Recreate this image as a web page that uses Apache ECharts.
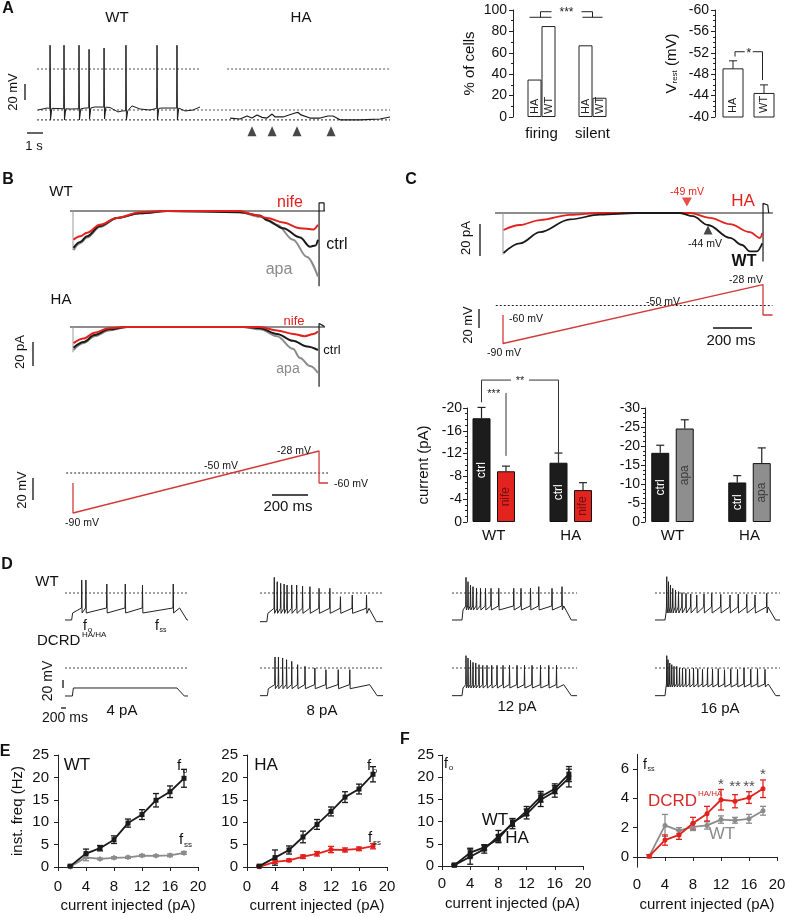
<!DOCTYPE html>
<html><head><meta charset="utf-8">
<script src="https://cdn.jsdelivr.net/npm/echarts@6/dist/echarts.min.js"></script>
<style>html,body{margin:0;padding:0;background:#fff}#c{width:793px;height:917px}</style>
</head><body><div id="c"></div><script>
// ================= DATA =================
// Panel A: spontaneous activity (time s, membrane potential mV)
const aTimeMax = 23.53;
const aDotted = [[0,10.87,0],[12.67,23.53,0],[0,23.53,-50],[0,23.53,-62]]; // [tStart,tEnd,mV]
const aWtBaseline = [[0.07,-50],[0.67,-47.6],[1.4,-48.2],[2.2,-48.8],[3.2,-47.6],[3.87,-46.3],[4.87,-47],[5.4,-52.4],[5.67,-51.2],[6.33,-45],[6.87,-48.8],[7.53,-50],[8.33,-47.6],[9.0,-47.6],[9.87,-51.2],[10.4,-50],[10.87,-46.3]];
const aWtSpikes = [[0.87,-48,29,-62],[1.8,-48.5,29,-62],[2.8,-48.5,29,-62],[3.47,-47.5,24,-61],[4.47,-46.5,25.6,-61],[5.93,-51,29,-62],[8.0,-48,29,-62],[9.33,-47.6,29,-62]]; // [t, base, peak, ahp]
const aHaTrace = [[12.87,-59.8],[13.53,-61],[14.0,-57.3],[14.33,-59.8],[14.67,-56],[15.0,-59],[15.33,-59.8],[15.67,-55],[15.87,-58.5],[16.4,-58.5],[17.2,-53.7],[17.4,-53],[17.6,-56],[18.2,-59.8],[18.87,-59.8],[19.4,-57.3],[19.73,-57.3],[20.2,-62],[21.53,-62],[22.87,-61],[23.53,-58.5]];
const aArrowTimes = [14.33,15.67,17.33,19.6];
const aArrowMv = -76;
// % of cells
const pctCats = ['firing','silent'];
const pctHA = [35,67];
const pctWT = [85,18];
const pctSig = [93.2, 98.4]; // underline level, bracket level
// V rest
const vCats = ['HA','WT'];
const vMean = [-49.0,-44.4];
const vErr = [1.5,1.6];
const vSig = [-52.2,-51.3,-46.9]; // level, left end, right end
// Panels B, C: ramp protocol (ms, mV)
const rampT = [0,0,1370,1370,1420];
const rampV = [-60,-90,-28,-60,-60];
const holdMv = -50;
const holdSpan = [-38,1420];
// B currents (ms, pA)
const bZeroSpan = [-17,1403];
const bWtApa = [[3,-34],[40,-28],[78,-23],[150,-14],[245,-6],[373,-2],[523,0],[930,-1],[1041,-5],[1136,-12],[1225,-25],[1303,-40],[1364,-57]];
const bWtCtrl = [[3,-32],[40,-27],[78,-22],[150,-13],[245,-6],[373,-2],[523,0],[930,-1],[1041,-4],[1080,-8],[1170,-15],[1264,-23],[1320,-31],[1350,-30],[1364,-25]];
const bWtNife = [[3,-25],[40,-22],[78,-19],[150,-12],[245,-6],[373,-1],[523,0],[930,0],[1002,-3],[1080,-6],[1170,-10],[1264,-15],[1340,-16],[1364,-12]];
const bWtEnds = [[[0,0],[0,-34]],[[1370,-69],[1370,7],[1398,7],[1398,0]]];
const bHaApa = [[3,-20],[60,-14],[120,-8],[200,-3],[300,0],[950,0],[1041,-2],[1136,-8],[1225,-19],[1264,-27],[1320,-34],[1364,-40]];
const bHaCtrl = [[3,-18],[60,-13],[120,-7],[200,-2],[300,0],[950,0],[1041,-1],[1136,-6],[1225,-12],[1303,-17],[1364,-20]];
const bHaNife = [[3,-14],[60,-10],[120,-5],[200,-1],[300,0],[1041,0],[1136,-3],[1225,-6],[1290,-8],[1340,-6],[1364,-4]];
const bHaEnds = [[[0,0],[0,-22]],[[1370,-52],[1370,3],[1395,1],[1400,0]]];
// C currents
const cZeroSpan = [-42,1422];
const cWt = [[3,-25],[90,-19],[195,-12],[353,-4],[511,-1],[700,0],[933,0],[1000,-2],[1080,-7.5],[1196,-15.6],[1260,-20],[1301,-24],[1338,-24],[1366,-19]];
const cHa = [[3,-10.6],[90,-7.5],[195,-4.4],[353,-1.2],[511,0],[985,0],[1090,-3],[1196,-7],[1301,-12],[1354,-15.6],[1366,-12.5]];
const cEnds = [[[0,0],[0,-26]],[[1370,-31],[1370,6],[1395,5],[1400,0]]];
const cHaMark = [969,6.9];
const cWtMark = [1080,-10.6];
// C bars (pA)
const cBarCats = ['WT','HA'];
const cCtrl = [-18.2,-10.4];
const cCtrlErr = [1.9,1.7];
const cNife = [-8.9,-5.6];
const cNifeErr = [0.9,1.3];
const cCtrl2 = [-18.2,-10.4];
const cCtrl2Err = [2.0,1.8];
const cApa = [-24.6,-15.5];
const cApaErr = [2.3,4.0];
// D: current-step traces (s, mV)
const dWt4 = {on:0.27, off:4.66, base:-81, ahp:-60, thr:-45, spikes:[0.68,0.85,1.7,2.45,3.15,4.4], peaks:[39,39,27,27,24,27]};
const dHa4 = {on:0.3, off:4.55, base:-84, ahp:-60, thr:-60, spikes:[], peaks:[]};
const dWt8 = {on:0.28, off:4.43, base:-86, ahp:-61, thr:-46, spikes:[0.58,0.70,0.84,0.98,1.10,1.29,1.49,1.73,2.03,2.40,2.84,3.27,3.75,4.33], peaks:[47,34,29,27,24,24,24,21,19,14,14,-11,-6,-6]};
const dHa8 = {on:0.3, off:4.46, base:-83, ahp:-62, thr:-50, spikes:[0.61,0.75,0.92,1.08,1.29,1.53,1.83,2.23,2.68,3.18,3.65], peaks:[33,33,30,25,20,10,5,0,-5,-5,-5]};
const dWt12 = {on:0.4, off:4.47, base:-81, ahp:-51, thr:-39, spikes:[0.56,0.64,0.74,0.84,0.98,1.14,1.34,1.56,1.87,2.47,2.76,3.14,3.47,4.0,4.4], peaks:[47,34,24,19,14,14,14,14,14,14,14,14,19,14,19]};
const dHa12 = {on:0.4, off:4.47, base:-83, ahp:-60, thr:-50, spikes:[0.56,0.64,0.74,0.84,0.95,1.08,1.23,1.4,1.59,1.8,2.04,2.3,2.6,2.9,3.2,3.54,3.87,4.18], peaks:[37,30,23,17,15,10,8,8,8,8,8,8,8,8,8,8,8,8]};
const dWt16 = {on:0.4, off:4.52, base:-81, ahp:-60, thr:-42, spikes:[0.47,0.54,0.62,0.71,0.82,0.94,1.08,1.24,1.43,1.67,1.96,2.27,2.63,3.0,3.33,3.67,4.0,4.47], peaks:[49,34,24,14,9,4,1,-1,-3,-6,-3,-1,-4,-6,-3,-4,-6,-1]};
const dHa16 = {on:0.4, off:4.53, base:-83, ahp:-57, thr:-48, spikes:[0.47,0.52,0.59,0.67,0.76,0.87,0.98,1.1,1.23,1.38,1.54,1.71,1.9,2.1,2.3,2.53,2.78,3.03,3.3,3.56,3.83,4.1,4.4], peaks:[37,25,15,10,5,5,0,0,-2,-3,0,-2,-4,-1,-3,-2,-5,-2,-4,0,-3,-2,-4]};
const dCurrents = ['4 pA','8 pA','12 pA','16 pA'];
// E, F: instantaneous frequency (pA, Hz)
const fX = [1.75,4,6,8,10,12,14,16,18];
const wtF0 = [0.2,3.0,4.2,6.1,9.8,11.7,14.9,16.8,19.8];
const wtF0Err = [0.2,1.0,0.6,0.85,0.9,1.1,1.5,1.3,2.0];
const haF0 = [0.2,2.1,3.8,6.7,9.5,12.4,15.6,17.4,20.7];
const haF0Err = [0.2,1.7,0.9,1.3,1.1,1.0,1.2,1.1,1.7];
const wtFss = [0.05,2.15,1.8,2.05,2.15,2.55,2.5,2.6,3.15];
const wtFssErr = [0.1,0.75,0.2,0.25,0.25,0.25,0.2,0.3,0.3];
const haFss = [0.05,1.15,1.5,2.3,2.95,3.9,3.8,4.05,4.65];
const haFssErr = [0.1,0.35,0.3,0.4,0.5,0.7,0.45,0.4,0.6];
const fSigX = [12,14,16,18];
const fSigY = [4.9,4.8,4.8,5.6];
const fSigText = ['*','**','**','*'];

// ================= BUILD =================
const FONT = '"Liberation Sans", Arial, Helvetica, sans-serif';
const RED = '#e3211c', GRAY = '#8b8b8b', INK = '#1a1a1a';
const grids = [], xAxes = [], yAxes = [], series = [], graphics = [];
function grid(g, x, y){ const i = grids.length; grids.push(g); xAxes.push(Object.assign({gridIndex:i}, x)); yAxes.push(Object.assign({gridIndex:i}, y)); return i; }
function hv(min, max, extra){ return Object.assign({type:'value', min, max, show:false, splitLine:{show:false}}, extra || {}); }
function line(gi, data, color, width, extra){
  series.push(Object.assign({type:'line', xAxisIndex:gi, yAxisIndex:gi, data, showSymbol:false, symbol:'none',
    lineStyle:{color, width}, itemStyle:{color}, silent:true, z:3}, extra || {}));
}
function dotted(gi, data, color){ line(gi, data, color || '#333', 1.1, {lineStyle:{color:color || '#333', width:1.1, type:[2,2]}}); }
function T(text, x, y, o){ o = o || {}; return {type:'text', x, y, rotation:o.rot || 0, z:100,
  style:{text, fill:o.color || '#111', fontSize:o.size || 13, fontFamily:FONT, fontWeight:o.bold ? 'bold' : 'normal',
    align:o.align || 'center', verticalAlign:'middle'}}; }
function L(x1, y1, x2, y2, w, c){ return {type:'line', z:100, shape:{x1, y1, x2, y2}, style:{stroke:c || '#111', lineWidth:w || 1.3}}; }
function seg(x1, y1, x2, y2, c, w){ return {type:'line', shape:{x1, y1, x2, y2}, style:{stroke:c || '#222', lineWidth:w || 1}}; }
const axisTxt = {color:'#111', fontFamily:FONT};
const axLine = {show:true, lineStyle:{color:'#222', width:1}};
const axTick = {show:true, length:4, lineStyle:{color:'#222'}};

// ---------- Panel A ----------
const gA = grid({left:37, top:40.3, width:353, height:94.3}, hv(0, aTimeMax), hv(-80, 35));
aDotted.forEach(d => dotted(gA, [[d[0], d[2]], [d[1], d[2]]], '#555'));
const wtTrace = aWtBaseline.map(p => [p[0], p[1]]);
aWtSpikes.forEach(s => wtTrace.push([s[0]-0.02, s[1]], [s[0], s[2]], [s[0]+0.03, s[3]], [s[0]+0.12, s[1]]));
wtTrace.sort((a, b) => a[0] - b[0]);
line(gA, wtTrace, INK, 1);
line(gA, aHaTrace, INK, 1.2);
series.push({type:'scatter', xAxisIndex:gA, yAxisIndex:gA, data:aArrowTimes.map(t => [t, aArrowMv]), symbol:'triangle', symbolSize:[9,10], itemStyle:{color:INK}, silent:true});

// % of cells
const gP = grid({left:516, top:10, width:102, height:107},
  {type:'category', data:pctCats, axisLine:{show:false}, axisTick:{show:false}, axisLabel:Object.assign({fontSize:15, margin:9}, axisTxt)},
  {type:'value', min:0, max:100, interval:20, offset:3, axisLine:axLine, axisTick:axTick, minorTick:{show:true, splitNumber:2, length:2, lineStyle:{color:'#222'}},
   splitLine:{show:false}, axisLabel:Object.assign({fontSize:14, margin:6}, axisTxt),
   name:'% of cells', nameLocation:'middle', nameGap:36, nameTextStyle:{fontSize:15, color:'#111', fontFamily:FONT}});
[['HA', pctHA], ['WT', pctWT]].forEach(([nm, d]) => series.push({type:'bar', name:nm, xAxisIndex:gP, yAxisIndex:gP, data:d, barWidth:14, barGap:'0%',
  itemStyle:{color:'#fff', borderColor:'#222', borderWidth:1},
  label:{show:true, position:'insideBottom', rotate:90, align:'left', verticalAlign:'middle', distance:3, formatter:nm, fontSize:11, color:'#222', fontFamily:FONT}}));
series.push({type:'custom', xAxisIndex:gP, yAxisIndex:gP, data:[[0]], z:5, renderItem:(p, api) => {
  const yU = api.coord([0, pctSig[0]])[1], yT = api.coord([0, pctSig[1]])[1];
  const x0 = api.coord([0, 0])[0] - 1, x1 = api.coord([1, 0])[0], m = (x0 + x1) / 2;
  return {type:'group', children:[seg(x0-11, yU, x0+11, yU), seg(x0, yU, x0, yT), seg(x0, yT, m-15, yT), seg(m+15, yT, x1, yT), seg(x1, yT, x1, yU), seg(x1-10, yU, x1+10, yU),
    {type:'text', style:{text:'***', x:m, y:yT+1, fill:'#222', fontSize:12, fontFamily:FONT, align:'center', verticalAlign:'middle'}}]};
}});

// V rest
const gV = grid({left:717.5, top:10, width:62, height:107},
  {type:'category', data:vCats, show:false},
  {type:'value', min:-60, max:-40, interval:4, inverse:true, offset:2.5, axisLine:axLine, axisTick:axTick, minorTick:{show:true, splitNumber:4, length:2, lineStyle:{color:'#222'}},
   splitLine:{show:false}, axisLabel:Object.assign({fontSize:14, margin:6}, axisTxt),
   name:'{v|V}{s|rest}{v| (mV)}', nameLocation:'middle', nameGap:36,
   nameTextStyle:{color:'#111', fontFamily:FONT, rich:{v:{fontSize:15, fontFamily:FONT, color:'#111'}, s:{fontSize:8, fontFamily:FONT, color:'#111', padding:[6,0,0,0]}}}});
series.push({type:'custom', xAxisIndex:gV, yAxisIndex:gV, data:vMean.map((v, i) => [i, v, vErr[i]]), renderItem:(p, api) => {
  const i = api.value(0), v = api.value(1), e = api.value(2);
  const top = api.coord([i, v]), bot = api.coord([i, -40]), cap = api.coord([i, v - e]);
  const x = top[0];
  return {type:'group', children:[
    {type:'rect', shape:{x:x-10, y:top[1], width:20, height:bot[1]-top[1]}, style:{fill:'#fff', stroke:'#222', lineWidth:1}},
    seg(x, top[1], x, cap[1]), seg(x-4, cap[1], x+4, cap[1]),
    {type:'text', x:x, y:bot[1]-4, rotation:Math.PI/2, style:{text:vCats[i], x:0, y:0, fill:'#222', fontSize:11, fontFamily:FONT, align:'left', verticalAlign:'middle'}}]};
}});
series.push({type:'custom', xAxisIndex:gV, yAxisIndex:gV, data:[[0]], renderItem:(p, api) => {
  const yl = api.coord([0, vSig[0]])[1], y0 = api.coord([0, vSig[1]])[1], y1 = api.coord([0, vSig[2]])[1];
  const x0 = api.coord([0, -50])[0] + 2, x1 = api.coord([1, -50])[0] - 1.5, m = (x0 + x1) / 2;
  return {type:'group', children:[seg(x0, y0, x0, yl), seg(x0, yl, m-4, yl), seg(m+4, yl, x1, yl), seg(x1, yl, x1, y1),
    {type:'text', style:{text:'*', x:m, y:yl+2, fill:'#222', fontSize:13, fontFamily:FONT, align:'center', verticalAlign:'middle'}}]};
}});

// ---------- Panel B ----------
const bX = hv(-50, 1450);
const gBw = grid({left:64.02, top:193.75, width:269.4, height:92}, bX, hv(-65, 15));
const gBh = grid({left:64.02, top:309.75, width:269.4, height:92}, Object.assign({}, bX), hv(-65, 15));
const gBr = grid({left:64.02, top:443, width:269.4, height:80}, Object.assign({}, bX), hv(-100, -20));
const smoothOpt = {smooth:0.35, smoothMonotone:'x'};
[[gBw, bWtApa, bWtCtrl, bWtNife, bWtEnds], [gBh, bHaApa, bHaCtrl, bHaNife, bHaEnds]].forEach(([g, apa, ctrl, nife, ends]) => {
  line(g, [[bZeroSpan[0], 0], [bZeroSpan[1], 0]], INK, 1);
  line(g, ends[0], '#9a9a9a', 1);
  line(g, ends[1], INK, 1.2);
  line(g, apa, GRAY, 2, smoothOpt);
  line(g, ctrl, INK, 2, smoothOpt);
  line(g, nife, RED, 2, smoothOpt);
});
const rampData = rampT.map((t, i) => [t, rampV[i]]);
dotted(gBr, [[holdSpan[0], holdMv], [holdSpan[1], holdMv]], '#222');
line(gBr, rampData, '#d23a3a', 1.3);

// ---------- Panel C ----------
const cX = hv(-50, 1450);
const gCt = grid({left:493.5, top:197, width:284.7, height:64}, cX, hv(-30, 10));
const gCr = grid({left:493.5, top:277, width:284.7, height:76}, Object.assign({}, cX), hv(-100, -20));
line(gCt, [[cZeroSpan[0], 0], [cZeroSpan[1], 0]], INK, 1);
line(gCt, cEnds[0], '#9a9a9a', 1);
line(gCt, cEnds[1], INK, 1.2);
line(gCt, cHa, RED, 1.8, smoothOpt);
line(gCt, cWt, INK, 1.8, smoothOpt);
series.push({type:'scatter', xAxisIndex:gCt, yAxisIndex:gCt, data:[cHaMark], symbol:'triangle', symbolRotate:180, symbolSize:[10,9], itemStyle:{color:RED}, silent:true, z:6});
series.push({type:'scatter', xAxisIndex:gCt, yAxisIndex:gCt, data:[cWtMark], symbol:'triangle', symbolSize:[9,9], itemStyle:{color:INK}, silent:true, z:6});
dotted(gCr, [[holdSpan[0], holdMv], [holdSpan[1], holdMv]], '#222');
line(gCr, rampData, '#d23a3a', 1.3);

// C bar charts
const BAR_HALF = 12.25;
function barGrid(left, offset, min, interval){
  return grid({left, top:408, width:154, height:114},
    {type:'category', data:cBarCats, axisLine:{show:false}, axisTick:{show:false}, axisLabel:Object.assign({fontSize:15, margin:6}, axisTxt)},
    {type:'value', min, max:0, interval, inverse:true, offset, axisLine:axLine, axisTick:axTick, minorTick:{show:true, splitNumber:4, length:2, lineStyle:{color:'#222'}},
     splitLine:{show:false}, axisLabel:Object.assign({fontSize:14, margin:5}, axisTxt)});
}
const gC1 = barGrid(455.25, -11.75, -20, 4);
yAxes[gC1].name = 'current (pA)'; yAxes[gC1].nameLocation = 'middle'; yAxes[gC1].nameGap = 36;
yAxes[gC1].nameTextStyle = {fontSize:15, color:'#111', fontFamily:FONT};
const gC2 = barGrid(634, -11, -30, 5);
function barSeries(g, name, data, errs, color, labelColor, side){
  series.push({type:'bar', name, xAxisIndex:g, yAxisIndex:g, data, barWidth:18, barGap:'36%',
    itemStyle:{color, borderColor:'#111', borderWidth:1},
    label:{show:true, position:'inside', rotate:90, formatter:name, fontSize:12, color:labelColor, fontFamily:FONT}});
  series.push({type:'custom', xAxisIndex:g, yAxisIndex:g, data:data.map((v, i) => [i, v, errs[i]]), z:1, renderItem:(p, api) => {
    const i = api.value(0), v = api.value(1), e = api.value(2);
    const a = api.coord([i, v]), b = api.coord([i, v - e]); const x = a[0] + side * BAR_HALF;
    return {type:'group', children:[seg(x, a[1], x, b[1], '#222', 1.2), seg(x-4, b[1], x+4, b[1], '#222', 1.2)]};
  }});
}
barSeries(gC1, 'ctrl', cCtrl, cCtrlErr, '#1c1c1c', '#fff', -1);
barSeries(gC1, 'nife', cNife, cNifeErr, '#e3231e', '#6e0e0e', 1);
barSeries(gC2, 'ctrl', cCtrl2, cCtrl2Err, '#1c1c1c', '#fff', -1);
barSeries(gC2, 'apa', cApa, cApaErr, '#8e8e8e', '#3a3a3a', 1);
const cSig = [{a:[0,-1], b:[0,1], level:-22.6, ends:[-21,-11.6], text:'***'}, {a:[0,-1], b:[1,-1], level:-24.9, ends:[-22.6,-10.4], text:'**'}];
series.push({type:'custom', xAxisIndex:gC1, yAxisIndex:gC1, data:cSig.map((s, i) => [i]), z:5, renderItem:(p, api) => {
  const s = cSig[api.value(0)];
  const xa = api.coord([s.a[0], 0])[0] + s.a[1] * BAR_HALF, xb = api.coord([s.b[0], 0])[0] + s.b[1] * BAR_HALF;
  const yl = api.coord([0, s.level])[1], ya = api.coord([0, s.ends[0]])[1], yb = api.coord([0, s.ends[1]])[1];
  const m = (xa + xb) / 2, gap = s.text.length * 3.5 + 2;
  return {type:'group', children:[seg(xa, ya, xa, yl, '#333'), seg(xa, yl, m-gap, yl, '#333'), seg(m+gap, yl, xb, yl, '#333'), seg(xb, yl, xb, yb, '#333'),
    {type:'text', style:{text:s.text, x:m, y:yl+1, fill:'#222', fontSize:11, fontFamily:FONT, align:'center', verticalAlign:'middle'}}]};
}});

// ---------- Panel D ----------
const dCols = [65, 260, 452, 655], dWidths = [123, 123, 125, 125], dTops = [573, 648];
const dTraces = [[dWt4, dHa4], [dWt8, dHa8], [dWt12, dHa12], [dWt16, dHa16]];
function buildStep(d){
  const p = [[0, d.base], [d.on, d.base], [d.on + 0.04, d.ahp]];
  d.spikes.forEach((t, i) => p.push([t - 0.012, d.thr], [t, d.peaks[i]], [t + 0.015, d.ahp]));
  p.push([d.off, d.spikes.length ? d.thr : d.ahp], [d.off + 0.3, d.base], [5, d.base]);
  return p;
}
dTraces.forEach((pair, c) => pair.forEach((d, r) => {
  const g = grid({left:dCols[c], top:dTops[r], width:dWidths[c], height:53.33}, hv(0, 5), hv(-100, 60));
  dotted(g, [[0, 0], [5, 0]], '#444');
  line(g, buildStep(d), '#222', 1);
}));

// ---------- Panels E, F ----------
function freqX(left, off, margin, gap){
  return {type:'value', min:0, max:20, interval:4, offset:off, axisLine:axLine, axisTick:axTick, splitLine:{show:false},
    axisLabel:Object.assign({fontSize:15, margin}, axisTxt),
    name:'current injected (pA)', nameLocation:'middle', nameGap:gap, nameTextStyle:{fontSize:15, color:'#111', fontFamily:FONT}};
}
function freqY(extra){
  return Object.assign({type:'value', min:0, max:25, interval:5, offset:3, axisLine:axLine, axisTick:axTick, splitLine:{show:false},
    axisLabel:Object.assign({fontSize:15, margin:6}, axisTxt)}, extra || {});
}
function freqSeries(g, ys, errs, color, symbol, size){
  series.push({type:'custom', xAxisIndex:g, yAxisIndex:g, data:fX.map((x, i) => [x, ys[i], errs[i]]), z:2, renderItem:(p, api) => {
    const x = api.value(0), y = api.value(1), e = api.value(2);
    const a = api.coord([x, y - e]), b = api.coord([x, y + e]);
    return {type:'group', children:[seg(a[0], a[1], b[0], b[1], color, 1.3), seg(a[0]-3, a[1], a[0]+3, a[1], color, 1.3), seg(b[0]-3, b[1], b[0]+3, b[1], color, 1.3)]};
  }});
  series.push({type:'line', xAxisIndex:g, yAxisIndex:g, data:fX.map((x, i) => [x, ys[i]]), symbol, symbolSize:size, showSymbol:true,
    lineStyle:{color, width:1.8}, itemStyle:{color}, silent:true, z:3});
}
const gE1 = grid({left:58, top:755, width:140, height:112}, freqX(58, 9, 3, 22),
  freqY({name:'inst. freq (Hz)', nameLocation:'middle', nameGap:30, nameTextStyle:{fontSize:15, color:'#111', fontFamily:FONT}}));
const gE2 = grid({left:247, top:755, width:140, height:112}, freqX(247, 9, 3, 22), freqY());
const gF1 = grid({left:442, top:755, width:141, height:111}, freqX(442, 3, 7, 27), freqY({offset:2}));
const gF2 = grid({left:637, top:754.3, width:140, height:112.9}, freqX(637, 2, 8, 28),
  {type:'value', min:-0.7, max:7, offset:2, axisLine:axLine, splitLine:{show:false},
   axisTick:Object.assign({customValues:[0,2,4,6]}, axTick), axisLabel:Object.assign({fontSize:15, margin:6, customValues:[0,2,4,6]}, axisTxt)});
freqSeries(gE1, wtFss, wtFssErr, GRAY, 'diamond', 6);
freqSeries(gE1, wtF0, wtF0Err, INK, 'rect', 5);
freqSeries(gE2, haFss, haFssErr, RED, 'circle', 5);
freqSeries(gE2, haF0, haF0Err, INK, 'rect', 5);
freqSeries(gF1, wtF0, wtF0Err, INK, 'rect', 5);
freqSeries(gF1, haF0, haF0Err, INK, 'rect', 5);
freqSeries(gF2, wtFss, wtFssErr, GRAY, 'circle', 5);
freqSeries(gF2, haFss, haFssErr, RED, 'circle', 5);
series.push({type:'scatter', xAxisIndex:gF2, yAxisIndex:gF2, symbolSize:0, silent:true,
  data:fSigX.map((x, i) => ({value:[x, fSigY[i]], label:{show:true, position:'inside', formatter:fSigText[i], fontSize:15, color:'#222', fontFamily:FONT}}))});

// ---------- Text annotations ----------
const R = Math.PI / 2;
graphics.push(
  T('A', 8, 9, {bold:true, size:16}), T('WT', 117, 18, {size:15}), T('HA', 301, 18, {size:15}),
  T('20 mV', 13, 92, {rot:R, size:13}), L(25, 84, 25, 100), L(27, 133, 43, 133), T('1 s', 34, 146, {size:13}),
  T('B', 8, 180, {bold:true, size:16}), T('WT', 61, 192, {size:15}), T('HA', 61, 300, {size:15}),
  T('nife', 290, 203, {color:RED, size:16}), T('ctrl', 337, 245, {size:16}), T('apa', 279, 270, {color:GRAY, size:16}),
  T('nife', 294, 321, {color:RED, size:13}), T('ctrl', 332, 350, {size:13}), T('apa', 288, 369, {color:GRAY, size:14}),
  T('20 pA', 20, 352, {rot:R, size:13}), L(33, 342, 33, 366),
  T('20 mV', 22, 490, {rot:R, size:13}), L(33, 478, 33, 500),
  T('-90 mV', 82, 523, {size:10.5}), T('-50 mV', 221, 466, {size:10.5}), T('-28 mV', 294, 451, {size:10.5}), T('-60 mV', 351, 484, {size:10.5}),
  L(272, 495, 308, 495, 1.5), T('200 ms', 288, 507, {size:15}),
  T('C', 411, 180, {bold:true, size:16}),
  T('-49 mV', 687, 192, {color:RED, size:10.5}), T('HA', 743, 201, {color:RED, size:17}), T('-44 mV', 705, 244, {size:10.5}), T('WT', 744, 262, {bold:true, size:16}),
  T('20 pA', 466, 238, {rot:R, size:13}), L(480, 224, 480, 256),
  T('20 mV', 468, 325, {rot:R, size:13}), L(479, 309, 479, 328),
  T('-28 mV', 746, 280, {size:10.5}), T('-50 mV', 663, 302, {size:10.5}), T('-60 mV', 526, 319, {size:10.5}), T('-90 mV', 504, 353, {size:10.5}),
  L(713, 328, 752, 328, 1.5), T('200 ms', 731, 341, {size:15}),
  T('D', 7, 565, {bold:true, size:16}), T('WT', 47, 582, {size:15}),
  T('DCRD', 37, 641, {size:15, align:'left'}), T('HA/HA', 82, 635, {size:8, align:'left'}),
  T('f', 85, 626, {size:14}), T('o', 90, 630, {size:8}), T('f', 157, 626, {size:14}), T('ss', 163, 630, {size:7}),
  T('20 mV', 48, 681, {rot:R, size:14}), L(63, 680, 63, 688), L(61, 708, 66, 708), T('200 ms', 65, 718, {size:14}),
  T(dCurrents[0], 122, 711, {size:15}), T(dCurrents[1], 322, 711, {size:15}), T(dCurrents[2], 517, 707, {size:15}), T(dCurrents[3], 720, 709, {size:15}),
  T('E', 5, 752, {bold:true, size:16}), T('WT', 77, 765, {size:17}), T('f', 179, 766, {size:15}), T('o', 185, 771, {size:8}),
  T('f', 181, 840, {size:15}), T('ss', 188, 845, {size:8}),
  T('HA', 266, 765, {size:17}), T('f', 369, 766, {size:15}), T('o', 375, 771, {size:8}), T('f', 370, 838, {size:15}), T('ss', 377, 843, {size:8}),
  T('F', 405, 740, {bold:true, size:16}), T('f', 446, 764, {size:14}), T('o', 451, 768, {size:8}),
  T('WT', 495, 820, {size:17}), T('HA', 517, 838, {size:17}),
  T('f', 645, 765, {size:14}), T('ss', 651, 769, {size:7}),
  T('DCRD', 648, 801, {color:'#d42a2a', size:17, align:'left'}), T('HA/HA', 698, 794, {color:'#d42a2a', size:8, align:'left'}),
  T('WT', 722, 834, {color:GRAY, size:17})
);

const chart = echarts.init(document.getElementById('c'), null, {renderer:'canvas'});
chart.setOption({backgroundColor:'#fff', animation:false, textStyle:{fontFamily:FONT},
  grid:grids, xAxis:xAxes, yAxis:yAxes, series, graphic:{elements:graphics}});
</script></body></html>
